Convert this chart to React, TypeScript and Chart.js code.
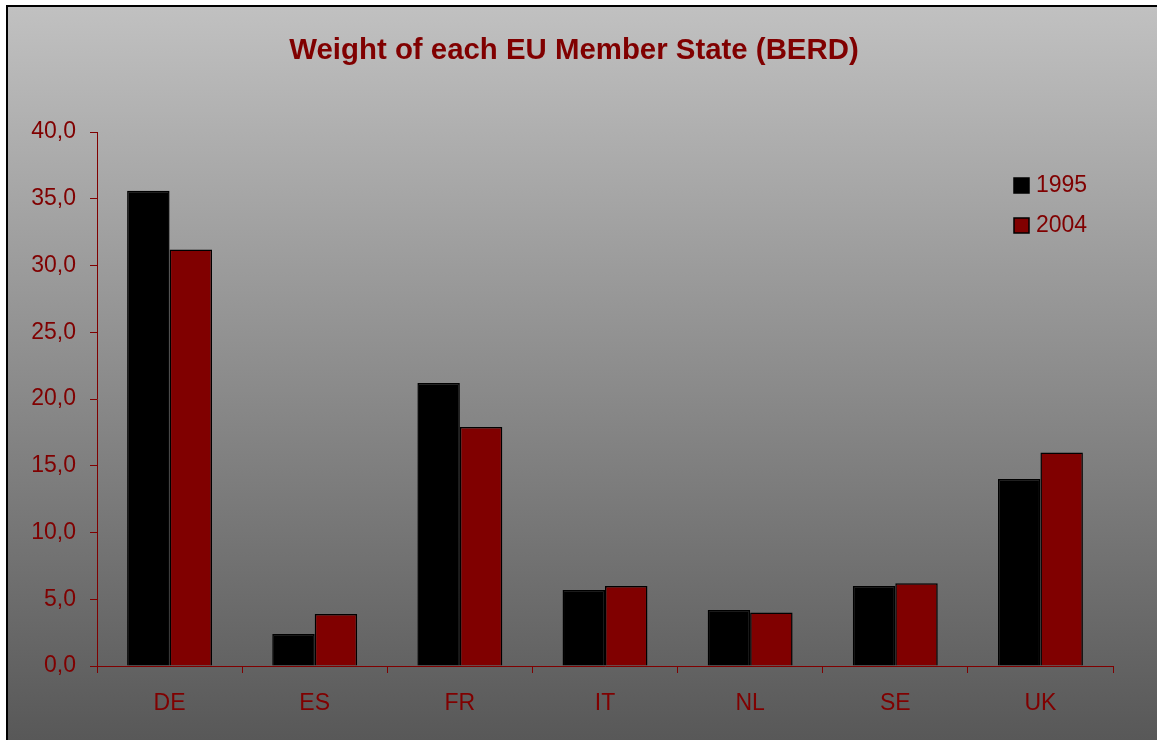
import React, { useEffect, useRef } from "react";
import { Chart, registerables } from "chart.js";

Chart.register(...registerables);

const categories = ["DE", "ES", "FR", "IT", "NL", "SE", "UK"];
const values1995 = [35.6, 2.4, 21.2, 5.7, 4.2, 6.0, 14.0];
const values2004 = [31.2, 3.9, 17.9, 6.0, 4.0, 6.2, 16.0];
const seriesLabels = ["1995", "2004"];
const seriesColors = ["#000000", "#800000"];
const chartTitle = "Weight of each EU Member State (BERD)";
const yMin = 0;
const yMax = 40;
const yStep = 5;

const TEXT = "#800000";
const FONT = "'Liberation Sans', Arial, sans-serif";

const framePlugin = {
  id: "frame",
  beforeDraw(chart: any) {
    const { ctx, width, height } = chart;
    ctx.save();
    ctx.fillStyle = "#ffffff";
    ctx.fillRect(0, 0, width, height);
    const g = ctx.createLinearGradient(0, 5, 0, height);
    g.addColorStop(0, "#c1c1c1");
    g.addColorStop(1, "#585858");
    ctx.fillStyle = g;
    ctx.fillRect(6, 5, width - 6, height - 5);
    ctx.strokeStyle = "#000";
    ctx.lineWidth = 2;
    ctx.beginPath();
    ctx.moveTo(7, height);
    ctx.lineTo(7, 6);
    ctx.lineTo(width, 6);
    ctx.stroke();
    ctx.restore();
  },
  afterDraw(chart: any) {
    const { ctx } = chart;
    ctx.save();
    ctx.fillStyle = TEXT;
    ctx.font = `bold 29.4px ${FONT}`;
    ctx.textAlign = "center";
    ctx.textBaseline = "alphabetic";
    ctx.fillText(chartTitle, 574, 59);
    // legend
    ctx.font = `23px ${FONT}`;
    ctx.textAlign = "left";
    ctx.textBaseline = "middle";
    chart.data.datasets.forEach((ds: any, i: number) => {
      const cy = 185 + i * 40;
      ctx.fillStyle = ds.backgroundColor;
      ctx.fillRect(1014, cy - 7, 15, 15);
      ctx.strokeStyle = "#000";
      ctx.lineWidth = 1.5;
      ctx.strokeRect(1014, cy - 7, 15, 15);
      ctx.fillStyle = TEXT;
      ctx.fillText(ds.label, 1036, cy + 1);
    });
    ctx.restore();
  },
};

export default function App() {
  const ref = useRef<HTMLCanvasElement | null>(null);
  useEffect(() => {
    document.body.style.margin = "0";
    document.body.style.overflow = "hidden";
    const canvas = ref.current!;
    const chart = new Chart(canvas, {
      type: "bar",
      data: {
        labels: categories,
        datasets: [
          {
            label: seriesLabels[0],
            data: values1995,
            backgroundColor: seriesColors[0],
            borderColor: "#000",
            borderWidth: 1.5,
            categoryPercentage: 0.585,
            barPercentage: 1,
          },
          {
            label: seriesLabels[1],
            data: values2004,
            backgroundColor: seriesColors[1],
            borderColor: "#000",
            borderWidth: 1.5,
            categoryPercentage: 0.585,
            barPercentage: 1,
          },
        ],
      },
      options: {
        responsive: false,
        animation: false,
        devicePixelRatio: 1,
        layout: { padding: { left: 0, right: 44, top: 132, bottom: 0 } },
        plugins: {
          legend: { display: false },
          title: { display: false },
          tooltip: { enabled: false },
        },
        scales: {
          x: {
            grid: {
              display: true,
              drawOnChartArea: false,
              drawTicks: true,
              tickLength: 7,
              color: TEXT,
              offset: true,
            },
            border: { display: true, color: TEXT, width: 1 },
            ticks: {
              color: TEXT,
              font: { family: FONT, size: 23 },
              padding: 17,
            },
            afterFit(scale: any) {
              scale.height = 74;
            },
          },
          y: {
            min: yMin,
            max: yMax,
            grid: {
              display: true,
              drawOnChartArea: false,
              drawTicks: true,
              tickLength: 7,
              color: TEXT,
            },
            border: { display: true, color: TEXT, width: 1 },
            ticks: {
              stepSize: yStep,
              color: TEXT,
              font: { family: FONT, size: 23 },
              padding: 14,
              callback: (v: any) => Number(v).toFixed(1).replace(".", ","),
            },
            afterFit(scale: any) {
              scale.width = 97;
            },
          },
        },
      },
      plugins: [framePlugin],
    });
    return () => chart.destroy();
  }, []);
  return (
    <canvas
      ref={ref}
      width={1157}
      height={740}
      style={{ position: "fixed", left: 0, top: 0, display: "block", width: 1157, height: 740 }}
    />
  );
}
